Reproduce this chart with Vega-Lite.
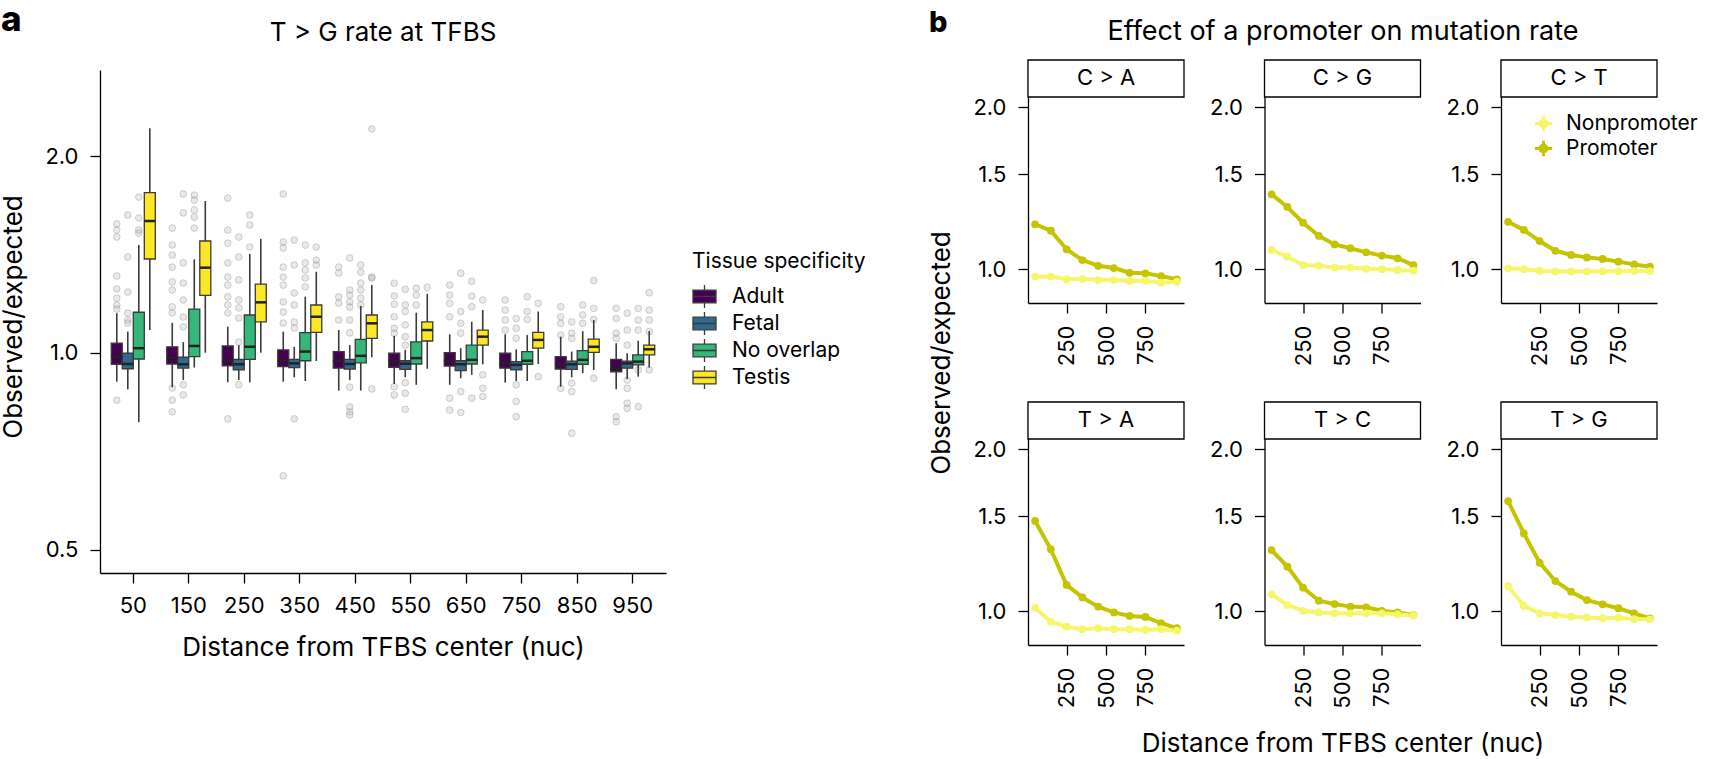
{
"$schema": "https://vega.github.io/schema/vega-lite/v6.json",
"padding": {"top": 3, "left": 0, "right": 0, "bottom": 0},
"config": {
 "font": "Inter",
 "view": {"stroke": null},
 "axis": {"domainColor": "black", "domainWidth": 1.3, "tickColor": "black", "tickWidth": 1.3, "tickSize": 10, "labelColor": "black", "labelFontSize": 22, "labelPadding": 12, "titleColor": "black", "titleFontSize": 26, "titleFontWeight": "normal", "grid": false, "labelFlush": false, "labelOverlap": false},
 "title": {"fontSize": 26, "fontWeight": "normal", "color": "black"},
 "legend": {"labelFontSize": 21, "titleFontSize": 21, "titleFontWeight": "normal", "labelColor": "black", "titleColor": "black"}
},
"datasets": {
 "boxes": [
  {"d": 50, "t": "Adult", "lo": 0.904, "q1": 0.961, "med": 0.986, "q3": 1.035, "hi": 1.150},
  {"d": 50, "t": "Fetal", "lo": 0.880, "q1": 0.946, "med": 0.962, "q3": 0.999, "hi": 1.078},
  {"d": 50, "t": "No overlap", "lo": 0.784, "q1": 0.979, "med": 1.017, "q3": 1.154, "hi": 1.462},
  {"d": 50, "t": "Testis", "lo": 1.084, "q1": 1.392, "med": 1.591, "q3": 1.758, "hi": 2.205},
  {"d": 150, "t": "Adult", "lo": 0.886, "q1": 0.962, "med": 0.982, "q3": 1.022, "hi": 1.112},
  {"d": 150, "t": "Fetal", "lo": 0.909, "q1": 0.948, "med": 0.961, "q3": 0.985, "hi": 1.039},
  {"d": 150, "t": "No overlap", "lo": 0.950, "q1": 0.987, "med": 1.025, "q3": 1.167, "hi": 1.390},
  {"d": 150, "t": "Testis", "lo": 1.001, "q1": 1.225, "med": 1.350, "q3": 1.483, "hi": 1.707},
  {"d": 250, "t": "Adult", "lo": 0.902, "q1": 0.956, "med": 0.973, "q3": 1.025, "hi": 1.097},
  {"d": 250, "t": "Fetal", "lo": 0.909, "q1": 0.942, "med": 0.961, "q3": 0.978, "hi": 1.028},
  {"d": 250, "t": "No overlap", "lo": 0.902, "q1": 0.978, "med": 1.022, "q3": 1.143, "hi": 1.417},
  {"d": 250, "t": "Testis", "lo": 1.001, "q1": 1.116, "med": 1.195, "q3": 1.274, "hi": 1.494},
  {"d": 350, "t": "Adult", "lo": 0.904, "q1": 0.953, "med": 0.973, "q3": 1.011, "hi": 1.078},
  {"d": 350, "t": "Fetal", "lo": 0.918, "q1": 0.950, "med": 0.964, "q3": 0.978, "hi": 1.022},
  {"d": 350, "t": "No overlap", "lo": 0.906, "q1": 0.973, "med": 1.005, "q3": 1.074, "hi": 1.219},
  {"d": 350, "t": "Testis", "lo": 0.972, "q1": 1.075, "med": 1.136, "q3": 1.184, "hi": 1.331},
  {"d": 450, "t": "Adult", "lo": 0.876, "q1": 0.948, "med": 0.973, "q3": 1.005, "hi": 1.084},
  {"d": 450, "t": "Fetal", "lo": 0.909, "q1": 0.945, "med": 0.962, "q3": 0.978, "hi": 1.028},
  {"d": 450, "t": "No overlap", "lo": 0.876, "q1": 0.966, "med": 0.990, "q3": 1.049, "hi": 1.180},
  {"d": 450, "t": "Testis", "lo": 0.985, "q1": 1.053, "med": 1.110, "q3": 1.143, "hi": 1.270},
  {"d": 550, "t": "Adult", "lo": 0.897, "q1": 0.951, "med": 0.970, "q3": 0.999, "hi": 1.062},
  {"d": 550, "t": "Fetal", "lo": 0.918, "q1": 0.944, "med": 0.963, "q3": 0.973, "hi": 1.011},
  {"d": 550, "t": "No overlap", "lo": 0.894, "q1": 0.962, "med": 0.982, "q3": 1.040, "hi": 1.152},
  {"d": 550, "t": "Testis", "lo": 0.946, "q1": 1.043, "med": 1.084, "q3": 1.116, "hi": 1.231},
  {"d": 650, "t": "Adult", "lo": 0.894, "q1": 0.955, "med": 0.972, "q3": 1.001, "hi": 1.068},
  {"d": 650, "t": "Fetal", "lo": 0.915, "q1": 0.940, "med": 0.961, "q3": 0.973, "hi": 1.017},
  {"d": 650, "t": "No overlap", "lo": 0.926, "q1": 0.962, "med": 0.976, "q3": 1.028, "hi": 1.116},
  {"d": 650, "t": "Testis", "lo": 0.961, "q1": 1.028, "med": 1.059, "q3": 1.084, "hi": 1.163},
  {"d": 750, "t": "Adult", "lo": 0.901, "q1": 0.948, "med": 0.964, "q3": 0.999, "hi": 1.068},
  {"d": 750, "t": "Fetal", "lo": 0.906, "q1": 0.942, "med": 0.959, "q3": 0.970, "hi": 1.013},
  {"d": 750, "t": "No overlap", "lo": 0.906, "q1": 0.961, "med": 0.973, "q3": 1.005, "hi": 1.065},
  {"d": 750, "t": "Testis", "lo": 0.962, "q1": 1.017, "med": 1.047, "q3": 1.075, "hi": 1.157},
  {"d": 850, "t": "Adult", "lo": 0.888, "q1": 0.945, "med": 0.959, "q3": 0.987, "hi": 1.059},
  {"d": 850, "t": "Fetal", "lo": 0.918, "q1": 0.944, "med": 0.961, "q3": 0.972, "hi": 1.005},
  {"d": 850, "t": "No overlap", "lo": 0.931, "q1": 0.961, "med": 0.976, "q3": 1.008, "hi": 1.080},
  {"d": 850, "t": "Testis", "lo": 0.942, "q1": 1.002, "med": 1.022, "q3": 1.050, "hi": 1.123},
  {"d": 950, "t": "Adult", "lo": 0.880, "q1": 0.936, "med": 0.947, "q3": 0.978, "hi": 1.035},
  {"d": 950, "t": "Fetal", "lo": 0.912, "q1": 0.948, "med": 0.964, "q3": 0.972, "hi": 0.999},
  {"d": 950, "t": "No overlap", "lo": 0.920, "q1": 0.959, "med": 0.970, "q3": 0.993, "hi": 1.044},
  {"d": 950, "t": "Testis", "lo": 0.950, "q1": 0.993, "med": 1.013, "q3": 1.028, "hi": 1.080}
 ],
 "outliers": [
  {"d":50,"t":"Adult","v":1.575},{"d":50,"t":"Adult","v":1.541},{"d":50,"t":"Adult","v":1.504},{"d":50,"t":"Adult","v":1.311},{"d":50,"t":"Adult","v":1.253},{"d":50,"t":"Adult","v":1.213},{"d":50,"t":"Adult","v":1.184},{"d":50,"t":"Adult","v":1.167},{"d":50,"t":"Adult","v":0.847},
  {"d":50,"t":"Fetal","v":1.625},{"d":50,"t":"Fetal","v":1.402},{"d":50,"t":"Fetal","v":1.239},{"d":50,"t":"Fetal","v":1.151},{"d":50,"t":"Fetal","v":1.123},{"d":50,"t":"Fetal","v":1.111},
  {"d":50,"t":"No overlap","v":1.731},{"d":50,"t":"No overlap","v":1.608},{"d":50,"t":"No overlap","v":1.541},{"d":50,"t":"No overlap","v":1.525},
  {"d":150,"t":"Adult","v":1.552},{"d":150,"t":"Adult","v":1.462},{"d":150,"t":"Adult","v":1.411},{"d":150,"t":"Adult","v":1.353},{"d":150,"t":"Adult","v":1.284},{"d":150,"t":"Adult","v":1.248},{"d":150,"t":"Adult","v":1.176},{"d":150,"t":"Adult","v":1.151},{"d":150,"t":"Adult","v":0.884},{"d":150,"t":"Adult","v":0.847},{"d":150,"t":"Adult","v":0.813},
  {"d":150,"t":"Fetal","v":1.750},{"d":150,"t":"Fetal","v":1.637},{"d":150,"t":"Fetal","v":1.373},{"d":150,"t":"Fetal","v":1.279},{"d":150,"t":"Fetal","v":1.205},{"d":150,"t":"Fetal","v":1.135},{"d":150,"t":"Fetal","v":1.096},{"d":150,"t":"Fetal","v":0.894},{"d":150,"t":"Fetal","v":0.863},
  {"d":150,"t":"No overlap","v":1.743},{"d":150,"t":"No overlap","v":1.713},{"d":150,"t":"No overlap","v":1.654},{"d":150,"t":"No overlap","v":1.613},{"d":150,"t":"No overlap","v":1.552},
  {"d":250,"t":"Adult","v":1.725},{"d":250,"t":"Adult","v":1.541},{"d":250,"t":"Adult","v":1.472},{"d":250,"t":"Adult","v":1.373},{"d":250,"t":"Adult","v":1.306},{"d":250,"t":"Adult","v":1.270},{"d":250,"t":"Adult","v":1.218},{"d":250,"t":"Adult","v":1.184},{"d":250,"t":"Adult","v":1.151},{"d":250,"t":"Adult","v":0.793},
  {"d":250,"t":"Fetal","v":1.504},{"d":250,"t":"Fetal","v":1.402},{"d":250,"t":"Fetal","v":1.293},{"d":250,"t":"Fetal","v":1.205},{"d":250,"t":"Fetal","v":1.172},{"d":250,"t":"Fetal","v":1.131},{"d":250,"t":"Fetal","v":1.039},{"d":250,"t":"Fetal","v":0.894},
  {"d":250,"t":"No overlap","v":1.625},{"d":250,"t":"No overlap","v":1.569},{"d":250,"t":"No overlap","v":1.452},
  {"d":350,"t":"Adult","v":1.750},{"d":350,"t":"Adult","v":1.478},{"d":350,"t":"Adult","v":1.447},{"d":350,"t":"Adult","v":1.353},{"d":350,"t":"Adult","v":1.306},{"d":350,"t":"Adult","v":1.270},{"d":350,"t":"Adult","v":1.197},{"d":350,"t":"Adult","v":1.155},{"d":350,"t":"Adult","v":1.111},{"d":350,"t":"Adult","v":0.649},
  {"d":350,"t":"Fetal","v":1.488},{"d":350,"t":"Fetal","v":1.363},{"d":350,"t":"Fetal","v":1.235},{"d":350,"t":"Fetal","v":1.184},{"d":350,"t":"Fetal","v":1.115},{"d":350,"t":"Fetal","v":1.092},{"d":350,"t":"Fetal","v":0.793},
  {"d":350,"t":"No overlap","v":1.462},{"d":350,"t":"No overlap","v":1.373},{"d":350,"t":"No overlap","v":1.339},{"d":350,"t":"No overlap","v":1.302},{"d":350,"t":"No overlap","v":1.262},
  {"d":350,"t":"Testis","v":1.452},{"d":350,"t":"Testis","v":1.387},{"d":350,"t":"Testis","v":1.363},
  {"d":450,"t":"Adult","v":1.353},{"d":450,"t":"Adult","v":1.325},{"d":450,"t":"Adult","v":1.218},{"d":450,"t":"Adult","v":1.192},{"d":450,"t":"Adult","v":1.123},
  {"d":450,"t":"Fetal","v":1.397},{"d":450,"t":"Fetal","v":1.248},{"d":450,"t":"Fetal","v":1.226},{"d":450,"t":"Fetal","v":1.197},{"d":450,"t":"Fetal","v":1.176},{"d":450,"t":"Fetal","v":1.123},{"d":450,"t":"Fetal","v":1.073},{"d":450,"t":"Fetal","v":0.887},{"d":450,"t":"Fetal","v":0.827},{"d":450,"t":"Fetal","v":0.813},{"d":450,"t":"Fetal","v":0.804},
  {"d":450,"t":"No overlap","v":1.363},{"d":450,"t":"No overlap","v":1.329},{"d":450,"t":"No overlap","v":1.279},{"d":450,"t":"No overlap","v":1.248},{"d":450,"t":"No overlap","v":1.213},{"d":450,"t":"No overlap","v":1.184},
  {"d":450,"t":"Testis","v":2.20},{"d":450,"t":"Testis","v":1.306},{"d":450,"t":"Testis","v":1.302},{"d":450,"t":"Testis","v":0.881},
  {"d":550,"t":"Adult","v":1.278},{"d":550,"t":"Adult","v":1.222},{"d":550,"t":"Adult","v":1.187},{"d":550,"t":"Adult","v":1.136},{"d":550,"t":"Adult","v":1.091},{"d":550,"t":"Adult","v":1.072},{"d":550,"t":"Adult","v":0.888},{"d":550,"t":"Adult","v":0.863},
  {"d":550,"t":"Fetal","v":1.251},{"d":550,"t":"Fetal","v":1.184},{"d":550,"t":"Fetal","v":1.157},{"d":550,"t":"Fetal","v":1.104},{"d":550,"t":"Fetal","v":1.059},{"d":550,"t":"Fetal","v":1.028},{"d":550,"t":"Fetal","v":0.901},{"d":550,"t":"Fetal","v":0.868},{"d":550,"t":"Fetal","v":0.820},
  {"d":550,"t":"No overlap","v":1.256},{"d":550,"t":"No overlap","v":1.226},{"d":550,"t":"No overlap","v":1.184},
  {"d":550,"t":"Testis","v":1.260},
  {"d":650,"t":"Adult","v":1.270},{"d":650,"t":"Adult","v":1.226},{"d":650,"t":"Adult","v":1.191},{"d":650,"t":"Adult","v":1.136},{"d":650,"t":"Adult","v":0.853},{"d":650,"t":"Adult","v":0.818},
  {"d":650,"t":"Fetal","v":1.324},{"d":650,"t":"Fetal","v":1.157},{"d":650,"t":"Fetal","v":1.110},{"d":650,"t":"Fetal","v":1.072},{"d":650,"t":"Fetal","v":0.873},{"d":650,"t":"Fetal","v":0.811},
  {"d":650,"t":"No overlap","v":1.287},{"d":650,"t":"No overlap","v":1.222},{"d":650,"t":"No overlap","v":1.177},{"d":650,"t":"No overlap","v":0.853},
  {"d":650,"t":"Testis","v":1.205},{"d":650,"t":"Testis","v":0.926},{"d":650,"t":"Testis","v":0.883},{"d":650,"t":"Testis","v":0.858},
  {"d":750,"t":"Adult","v":1.205},{"d":750,"t":"Adult","v":1.163},{"d":750,"t":"Adult","v":1.123},{"d":750,"t":"Adult","v":1.084},
  {"d":750,"t":"Fetal","v":1.129},{"d":750,"t":"Fetal","v":1.091},{"d":750,"t":"Fetal","v":1.053},{"d":750,"t":"Fetal","v":0.894},{"d":750,"t":"Fetal","v":0.843},{"d":750,"t":"Fetal","v":0.799},
  {"d":750,"t":"No overlap","v":1.219},{"d":750,"t":"No overlap","v":1.157},{"d":750,"t":"No overlap","v":1.125},
  {"d":750,"t":"Testis","v":1.191},{"d":750,"t":"Testis","v":0.920},
  {"d":850,"t":"Adult","v":1.177},{"d":850,"t":"Adult","v":1.136},{"d":850,"t":"Adult","v":1.110},{"d":850,"t":"Adult","v":1.065},{"d":850,"t":"Adult","v":0.883},
  {"d":850,"t":"Fetal","v":1.116},{"d":850,"t":"Fetal","v":1.072},{"d":850,"t":"Fetal","v":1.053},{"d":850,"t":"Fetal","v":0.899},{"d":850,"t":"Fetal","v":0.873},{"d":850,"t":"Fetal","v":0.754},
  {"d":850,"t":"No overlap","v":1.184},{"d":850,"t":"No overlap","v":1.143},{"d":850,"t":"No overlap","v":1.110},
  {"d":850,"t":"Testis","v":1.290},{"d":850,"t":"Testis","v":1.170},{"d":850,"t":"Testis","v":1.125},{"d":850,"t":"Testis","v":0.915},
  {"d":950,"t":"Adult","v":1.170},{"d":950,"t":"Adult","v":1.129},{"d":950,"t":"Adult","v":1.072},{"d":950,"t":"Adult","v":1.053},{"d":950,"t":"Adult","v":0.799},{"d":950,"t":"Adult","v":0.785},
  {"d":950,"t":"Fetal","v":1.150},{"d":950,"t":"Fetal","v":1.084},{"d":950,"t":"Fetal","v":1.028},{"d":950,"t":"Fetal","v":0.909},{"d":950,"t":"Fetal","v":0.883},{"d":950,"t":"Fetal","v":0.838},{"d":950,"t":"Fetal","v":0.823},
  {"d":950,"t":"No overlap","v":1.170},{"d":950,"t":"No overlap","v":1.123},{"d":950,"t":"No overlap","v":1.084},{"d":950,"t":"No overlap","v":0.942},{"d":950,"t":"No overlap","v":0.828},
  {"d":950,"t":"Testis","v":1.236},{"d":950,"t":"Testis","v":1.163},{"d":950,"t":"Testis","v":1.123},{"d":950,"t":"Testis","v":1.078},{"d":950,"t":"Testis","v":0.942}
 ],
 "lines": [
  {"mut":"C > A","type":"Promoter","d":50,"v":1.211},{"mut":"C > A","type":"Promoter","d":150,"v":1.178},{"mut":"C > A","type":"Promoter","d":250,"v":1.088},{"mut":"C > A","type":"Promoter","d":350,"v":1.039},{"mut":"C > A","type":"Promoter","d":450,"v":1.014},{"mut":"C > A","type":"Promoter","d":550,"v":1.004},{"mut":"C > A","type":"Promoter","d":650,"v":0.984},{"mut":"C > A","type":"Promoter","d":750,"v":0.982},{"mut":"C > A","type":"Promoter","d":850,"v":0.970},{"mut":"C > A","type":"Promoter","d":950,"v":0.957},
  {"mut":"C > A","type":"Nonpromoter","d":50,"v":0.968},{"mut":"C > A","type":"Nonpromoter","d":150,"v":0.968},{"mut":"C > A","type":"Nonpromoter","d":250,"v":0.957},{"mut":"C > A","type":"Nonpromoter","d":350,"v":0.959},{"mut":"C > A","type":"Nonpromoter","d":450,"v":0.954},{"mut":"C > A","type":"Nonpromoter","d":550,"v":0.954},{"mut":"C > A","type":"Nonpromoter","d":650,"v":0.950},{"mut":"C > A","type":"Nonpromoter","d":750,"v":0.951},{"mut":"C > A","type":"Nonpromoter","d":850,"v":0.943},{"mut":"C > A","type":"Nonpromoter","d":950,"v":0.947},
  {"mut":"C > G","type":"Promoter","d":50,"v":1.377},{"mut":"C > G","type":"Promoter","d":150,"v":1.304},{"mut":"C > G","type":"Promoter","d":250,"v":1.219},{"mut":"C > G","type":"Promoter","d":350,"v":1.152},{"mut":"C > G","type":"Promoter","d":450,"v":1.111},{"mut":"C > G","type":"Promoter","d":550,"v":1.093},{"mut":"C > G","type":"Promoter","d":650,"v":1.074},{"mut":"C > G","type":"Promoter","d":750,"v":1.059},{"mut":"C > G","type":"Promoter","d":850,"v":1.047},{"mut":"C > G","type":"Promoter","d":950,"v":1.017},
  {"mut":"C > G","type":"Nonpromoter","d":50,"v":1.085},{"mut":"C > G","type":"Nonpromoter","d":150,"v":1.054},{"mut":"C > G","type":"Nonpromoter","d":250,"v":1.017},{"mut":"C > G","type":"Nonpromoter","d":350,"v":1.014},{"mut":"C > G","type":"Nonpromoter","d":450,"v":1.006},{"mut":"C > G","type":"Nonpromoter","d":550,"v":1.006},{"mut":"C > G","type":"Nonpromoter","d":650,"v":1.001},{"mut":"C > G","type":"Nonpromoter","d":750,"v":0.999},{"mut":"C > G","type":"Nonpromoter","d":850,"v":0.996},{"mut":"C > G","type":"Nonpromoter","d":950,"v":0.993},
  {"mut":"C > T","type":"Promoter","d":50,"v":1.224},{"mut":"C > T","type":"Promoter","d":150,"v":1.182},{"mut":"C > T","type":"Promoter","d":250,"v":1.127},{"mut":"C > T","type":"Promoter","d":350,"v":1.081},{"mut":"C > T","type":"Promoter","d":450,"v":1.062},{"mut":"C > T","type":"Promoter","d":550,"v":1.051},{"mut":"C > T","type":"Promoter","d":650,"v":1.044},{"mut":"C > T","type":"Promoter","d":750,"v":1.032},{"mut":"C > T","type":"Promoter","d":850,"v":1.020},{"mut":"C > T","type":"Promoter","d":950,"v":1.010},
  {"mut":"C > T","type":"Nonpromoter","d":50,"v":1.003},{"mut":"C > T","type":"Nonpromoter","d":150,"v":0.999},{"mut":"C > T","type":"Nonpromoter","d":250,"v":0.993},{"mut":"C > T","type":"Nonpromoter","d":350,"v":0.989},{"mut":"C > T","type":"Nonpromoter","d":450,"v":0.989},{"mut":"C > T","type":"Nonpromoter","d":550,"v":0.989},{"mut":"C > T","type":"Nonpromoter","d":650,"v":0.990},{"mut":"C > T","type":"Nonpromoter","d":750,"v":0.990},{"mut":"C > T","type":"Nonpromoter","d":850,"v":0.991},{"mut":"C > T","type":"Nonpromoter","d":950,"v":0.991},
  {"mut":"T > A","type":"Promoter","d":50,"v":1.470},{"mut":"T > A","type":"Promoter","d":150,"v":1.302},{"mut":"T > A","type":"Promoter","d":250,"v":1.118},{"mut":"T > A","type":"Promoter","d":350,"v":1.060},{"mut":"T > A","type":"Promoter","d":450,"v":1.019},{"mut":"T > A","type":"Promoter","d":550,"v":0.994},{"mut":"T > A","type":"Promoter","d":650,"v":0.979},{"mut":"T > A","type":"Promoter","d":750,"v":0.975},{"mut":"T > A","type":"Promoter","d":850,"v":0.949},{"mut":"T > A","type":"Promoter","d":950,"v":0.929},
  {"mut":"T > A","type":"Nonpromoter","d":50,"v":1.014},{"mut":"T > A","type":"Nonpromoter","d":150,"v":0.955},{"mut":"T > A","type":"Nonpromoter","d":250,"v":0.935},{"mut":"T > A","type":"Nonpromoter","d":350,"v":0.925},{"mut":"T > A","type":"Nonpromoter","d":450,"v":0.929},{"mut":"T > A","type":"Nonpromoter","d":550,"v":0.925},{"mut":"T > A","type":"Nonpromoter","d":650,"v":0.925},{"mut":"T > A","type":"Nonpromoter","d":750,"v":0.922},{"mut":"T > A","type":"Nonpromoter","d":850,"v":0.925},{"mut":"T > A","type":"Nonpromoter","d":950,"v":0.919},
  {"mut":"T > C","type":"Promoter","d":50,"v":1.298},{"mut":"T > C","type":"Promoter","d":150,"v":1.209},{"mut":"T > C","type":"Promoter","d":250,"v":1.105},{"mut":"T > C","type":"Promoter","d":350,"v":1.045},{"mut":"T > C","type":"Promoter","d":450,"v":1.030},{"mut":"T > C","type":"Promoter","d":550,"v":1.019},{"mut":"T > C","type":"Promoter","d":650,"v":1.016},{"mut":"T > C","type":"Promoter","d":750,"v":1.001},{"mut":"T > C","type":"Promoter","d":850,"v":0.994},{"mut":"T > C","type":"Promoter","d":950,"v":0.983},
  {"mut":"T > C","type":"Nonpromoter","d":50,"v":1.074},{"mut":"T > C","type":"Nonpromoter","d":150,"v":1.026},{"mut":"T > C","type":"Nonpromoter","d":250,"v":1.001},{"mut":"T > C","type":"Nonpromoter","d":350,"v":0.994},{"mut":"T > C","type":"Nonpromoter","d":450,"v":0.990},{"mut":"T > C","type":"Nonpromoter","d":550,"v":0.990},{"mut":"T > C","type":"Nonpromoter","d":650,"v":0.990},{"mut":"T > C","type":"Nonpromoter","d":750,"v":0.990},{"mut":"T > C","type":"Nonpromoter","d":850,"v":0.986},{"mut":"T > C","type":"Nonpromoter","d":950,"v":0.980},
  {"mut":"T > G","type":"Promoter","d":50,"v":1.601},{"mut":"T > G","type":"Promoter","d":150,"v":1.394},{"mut":"T > G","type":"Promoter","d":250,"v":1.230},{"mut":"T > G","type":"Promoter","d":350,"v":1.137},{"mut":"T > G","type":"Promoter","d":450,"v":1.086},{"mut":"T > G","type":"Promoter","d":550,"v":1.048},{"mut":"T > G","type":"Promoter","d":650,"v":1.029},{"mut":"T > G","type":"Promoter","d":750,"v":1.012},{"mut":"T > G","type":"Promoter","d":850,"v":0.990},{"mut":"T > G","type":"Promoter","d":950,"v":0.969},
  {"mut":"T > G","type":"Nonpromoter","d":50,"v":1.113},{"mut":"T > G","type":"Nonpromoter","d":150,"v":1.022},{"mut":"T > G","type":"Nonpromoter","d":250,"v":0.990},{"mut":"T > G","type":"Nonpromoter","d":350,"v":0.983},{"mut":"T > G","type":"Nonpromoter","d":450,"v":0.976},{"mut":"T > G","type":"Nonpromoter","d":550,"v":0.973},{"mut":"T > G","type":"Nonpromoter","d":650,"v":0.969},{"mut":"T > G","type":"Nonpromoter","d":750,"v":0.972},{"mut":"T > G","type":"Nonpromoter","d":850,"v":0.966},{"mut":"T > G","type":"Nonpromoter","d":950,"v":0.965}
 ]
},
"resolve": {"scale": {"color": "independent", "x": "independent", "y": "independent"}, "legend": {"color": "independent"}},
"columns": 2,
"align": "none",
"spacing": 62,
"concat": [
 {
  "title": {"text": "a", "anchor": "start", "frame": "bounds", "fontSize": 35, "fontWeight": 800, "offset": -18},
  "vconcat": [
   {
    "width": 566, "height": 513,
    "title": {"text": "T > G rate at TFBS", "anchor": "middle", "frame": "group", "offset": 14},
    "encoding": {
     "x": {"field": "d", "type": "ordinal", "scale": {"paddingInner": 0, "paddingOuter": 0.1}, "axis": {"labelAngle": 0, "title": "Distance from TFBS center (nuc)", "titlePadding": 18}},
     "xOffset": {"field": "t", "type": "nominal", "scale": {"domain": ["Adult", "Fetal", "No overlap", "Testis"], "paddingInner": 0, "paddingOuter": 0.52}},
     "y": {"type": "quantitative", "scale": {"type": "log", "domain": [0.461, 2.804], "nice": false}, "axis": {"values": [0.5, 1, 2], "format": ".1f", "title": "Observed/expected", "titlePadding": 18, "domainDash": [503, 40]}}
    },
    "layer": [
     {"data": {"name": "outliers"}, "mark": {"type": "point", "filled": true, "size": 45, "fill": "#9a9a9a", "fillOpacity": 0.22, "stroke": "#888888", "strokeOpacity": 0.35, "strokeWidth": 1},
      "encoding": {"y": {"field": "v", "type": "quantitative"}}},
     {"data": {"name": "boxes"}, "mark": {"type": "rule", "color": "#3a3a3a", "strokeWidth": 1.6},
      "encoding": {"y": {"field": "lo", "type": "quantitative"}, "y2": {"field": "hi"}}},
     {"data": {"name": "boxes"}, "mark": {"type": "bar", "stroke": "#3a3a3a", "strokeWidth": 1.3},
      "encoding": {"y": {"field": "q1", "type": "quantitative"}, "y2": {"field": "q3"},
       "color": {"field": "t", "type": "nominal", "scale": {"domain": ["Adult", "Fetal", "No overlap", "Testis"], "range": ["#440154", "#31688E", "#35B779", "#FDE725"]},
        "legend": {"title": "Tissue specificity", "orient": "none", "legendX": 592, "legendY": 191, "symbolType": "M-1,-0.55L1,-0.55L1,0.55L-1,0.55Z M0,-0.55L0,-1 M0,0.55L0,1 M-1,0L1,0", "symbolSize": 529, "symbolStrokeColor": "#3a3a3a", "symbolStrokeWidth": 1.3, "symbolOpacity": 1, "rowPadding": -2.7, "labelOffset": 15, "titlePadding": 12}}}},
     {"data": {"name": "boxes"}, "mark": {"type": "tick", "color": "#222222", "thickness": 2.5, "size": 11, "opacity": 1},
      "encoding": {"y": {"field": "med", "type": "quantitative"}}}
    ]
   }
  ]
 },
 {
  "title": {"text": "b", "anchor": "start", "frame": "bounds", "fontSize": 29, "fontWeight": 800, "offset": -20},
  "vconcat": [
   {
    "title": {"text": "Effect of a promoter on mutation rate", "anchor": "middle", "frame": "group", "dx": 315, "offset": 13.5, "fontSize": 27},
    "bounds": "flush", "columns": 3, "spacing": {"row": 99, "column": 80.5},
    "resolve": {"scale": {"color": "independent", "x": "independent", "y": "independent"}, "legend": {"color": "independent"}},
    "data": {"name": "lines"},
    "concat": [
     {"width": 156, "height": 243, "transform": [{"filter": {"field": "mut", "equal": "C > A"}}],
      "encoding": {
       "x": {"field": "d", "type": "quantitative", "scale": {"domain": [5, 995], "nice": false, "zero": false}, "axis": {"values": [250, 500, 750], "labelAngle": -90, "title": null}},
       "y": {"field": "v", "type": "quantitative", "scale": {"type": "log", "domain": [0.8646, 2.446], "nice": false}, "axis": {"values": [1, 1.5, 2], "format": ".1f", "title": "Observed/expected", "titleY": 292.5, "titlePadding": 18}}},
      "layer": [
       {"transform": [{"filter": "datum.d == 50 && datum.type == 'Promoter'"}], "mark": {"type": "rect", "fill": "white", "stroke": "black", "strokeWidth": 1.3}, "encoding": {"x": {"datum": 5, "type": "quantitative"}, "x2": {"datum": 995}, "y": {"datum": 2.088, "type": "quantitative"}, "y2": {"datum": 2.446}}},
       {"transform": [{"filter": "datum.d == 50 && datum.type == 'Promoter'"}], "mark": {"type": "text", "fontSize": 22, "baseline": "middle", "align": "center"}, "encoding": {"x": {"datum": 500, "type": "quantitative"}, "y": {"datum": 2.26, "type": "quantitative"}, "text": {"field": "mut"}}},
       {"mark": {"type": "line", "strokeWidth": 4}, "encoding": {"color": {"field": "type", "type": "nominal", "scale": {"domain": ["Nonpromoter", "Promoter"], "range": ["#F6F66C", "#C4C400"]}, "legend": null}}},
       {"mark": {"type": "point", "filled": true, "size": 60, "opacity": 1}, "encoding": {"color": {"field": "type", "type": "nominal", "scale": {"domain": ["Nonpromoter", "Promoter"], "range": ["#F6F66C", "#C4C400"]}, "legend": null}}}
      ]},
     {"width": 156, "height": 243, "transform": [{"filter": {"field": "mut", "equal": "C > G"}}],
      "encoding": {
       "x": {"field": "d", "type": "quantitative", "scale": {"domain": [5, 995], "nice": false, "zero": false}, "axis": {"values": [250, 500, 750], "labelAngle": -90, "title": null}},
       "y": {"field": "v", "type": "quantitative", "scale": {"type": "log", "domain": [0.8646, 2.446], "nice": false}, "axis": {"values": [1, 1.5, 2], "format": ".1f", "title": null}}},
      "layer": [
       {"transform": [{"filter": "datum.d == 50 && datum.type == 'Promoter'"}], "mark": {"type": "rect", "fill": "white", "stroke": "black", "strokeWidth": 1.3}, "encoding": {"x": {"datum": 5, "type": "quantitative"}, "x2": {"datum": 995}, "y": {"datum": 2.088, "type": "quantitative"}, "y2": {"datum": 2.446}}},
       {"transform": [{"filter": "datum.d == 50 && datum.type == 'Promoter'"}], "mark": {"type": "text", "fontSize": 22, "baseline": "middle", "align": "center"}, "encoding": {"x": {"datum": 500, "type": "quantitative"}, "y": {"datum": 2.26, "type": "quantitative"}, "text": {"field": "mut"}}},
       {"mark": {"type": "line", "strokeWidth": 4}, "encoding": {"color": {"field": "type", "type": "nominal", "scale": {"domain": ["Nonpromoter", "Promoter"], "range": ["#F6F66C", "#C4C400"]}, "legend": null}}},
       {"mark": {"type": "point", "filled": true, "size": 60, "opacity": 1}, "encoding": {"color": {"field": "type", "type": "nominal", "scale": {"domain": ["Nonpromoter", "Promoter"], "range": ["#F6F66C", "#C4C400"]}, "legend": null}}}
      ]},
     {"width": 156, "height": 243, "transform": [{"filter": {"field": "mut", "equal": "C > T"}}],
      "encoding": {
       "x": {"field": "d", "type": "quantitative", "scale": {"domain": [5, 995], "nice": false, "zero": false}, "axis": {"values": [250, 500, 750], "labelAngle": -90, "title": null}},
       "y": {"field": "v", "type": "quantitative", "scale": {"type": "log", "domain": [0.8646, 2.446], "nice": false}, "axis": {"values": [1, 1.5, 2], "format": ".1f", "title": null}}},
      "layer": [
       {"transform": [{"filter": "datum.d == 50 && datum.type == 'Promoter'"}], "mark": {"type": "rect", "fill": "white", "stroke": "black", "strokeWidth": 1.3}, "encoding": {"x": {"datum": 5, "type": "quantitative"}, "x2": {"datum": 995}, "y": {"datum": 2.088, "type": "quantitative"}, "y2": {"datum": 2.446}}},
       {"transform": [{"filter": "datum.d == 50 && datum.type == 'Promoter'"}], "mark": {"type": "text", "fontSize": 22, "baseline": "middle", "align": "center"}, "encoding": {"x": {"datum": 500, "type": "quantitative"}, "y": {"datum": 2.26, "type": "quantitative"}, "text": {"field": "mut"}}},
       {"mark": {"type": "line", "strokeWidth": 4}, "encoding": {"color": {"field": "type", "type": "nominal", "scale": {"domain": ["Nonpromoter", "Promoter"], "range": ["#F6F66C", "#C4C400"]}, "legend": {"title": null, "orient": "none", "legendX": 32, "legendY": 53, "labelFontSize": 21, "symbolType": "M-1,0L1,0M0,-0.9L0,0.9M-0.4,0A0.4,0.4 0 1,0 0.4,0A0.4,0.4 0 1,0 -0.4,0", "symbolSize": 300, "symbolStrokeWidth": 3, "labelOffset": 12, "rowPadding": -8}}}},
       {"mark": {"type": "point", "filled": true, "size": 60, "opacity": 1}, "encoding": {"color": {"field": "type", "type": "nominal", "scale": {"domain": ["Nonpromoter", "Promoter"], "range": ["#F6F66C", "#C4C400"]}, "legend": {"title": null, "orient": "none", "legendX": 32, "legendY": 53, "labelFontSize": 21, "symbolType": "M-1,0L1,0M0,-0.9L0,0.9M-0.4,0A0.4,0.4 0 1,0 0.4,0A0.4,0.4 0 1,0 -0.4,0", "symbolSize": 300, "symbolStrokeWidth": 3, "labelOffset": 12, "rowPadding": -8}}}}
      ]},
     {"width": 156, "height": 243, "transform": [{"filter": {"field": "mut", "equal": "T > A"}}],
      "encoding": {
       "x": {"field": "d", "type": "quantitative", "scale": {"domain": [5, 995], "nice": false, "zero": false}, "axis": {"values": [250, 500, 750], "labelAngle": -90, "title": null}},
       "y": {"field": "v", "type": "quantitative", "scale": {"type": "log", "domain": [0.8646, 2.446], "nice": false}, "axis": {"values": [1, 1.5, 2], "format": ".1f", "title": null}}},
      "layer": [
       {"transform": [{"filter": "datum.d == 50 && datum.type == 'Promoter'"}], "mark": {"type": "rect", "fill": "white", "stroke": "black", "strokeWidth": 1.3}, "encoding": {"x": {"datum": 5, "type": "quantitative"}, "x2": {"datum": 995}, "y": {"datum": 2.088, "type": "quantitative"}, "y2": {"datum": 2.446}}},
       {"transform": [{"filter": "datum.d == 50 && datum.type == 'Promoter'"}], "mark": {"type": "text", "fontSize": 22, "baseline": "middle", "align": "center"}, "encoding": {"x": {"datum": 500, "type": "quantitative"}, "y": {"datum": 2.26, "type": "quantitative"}, "text": {"field": "mut"}}},
       {"mark": {"type": "line", "strokeWidth": 4}, "encoding": {"color": {"field": "type", "type": "nominal", "scale": {"domain": ["Nonpromoter", "Promoter"], "range": ["#F6F66C", "#C4C400"]}, "legend": null}}},
       {"mark": {"type": "point", "filled": true, "size": 60, "opacity": 1}, "encoding": {"color": {"field": "type", "type": "nominal", "scale": {"domain": ["Nonpromoter", "Promoter"], "range": ["#F6F66C", "#C4C400"]}, "legend": null}}}
      ]},
     {"width": 156, "height": 243, "transform": [{"filter": {"field": "mut", "equal": "T > C"}}],
      "encoding": {
       "x": {"field": "d", "type": "quantitative", "scale": {"domain": [5, 995], "nice": false, "zero": false}, "axis": {"values": [250, 500, 750], "labelAngle": -90, "title": "Distance from TFBS center (nuc)", "titlePadding": 22}},
       "y": {"field": "v", "type": "quantitative", "scale": {"type": "log", "domain": [0.8646, 2.446], "nice": false}, "axis": {"values": [1, 1.5, 2], "format": ".1f", "title": null}}},
      "layer": [
       {"transform": [{"filter": "datum.d == 50 && datum.type == 'Promoter'"}], "mark": {"type": "rect", "fill": "white", "stroke": "black", "strokeWidth": 1.3}, "encoding": {"x": {"datum": 5, "type": "quantitative"}, "x2": {"datum": 995}, "y": {"datum": 2.088, "type": "quantitative"}, "y2": {"datum": 2.446}}},
       {"transform": [{"filter": "datum.d == 50 && datum.type == 'Promoter'"}], "mark": {"type": "text", "fontSize": 22, "baseline": "middle", "align": "center"}, "encoding": {"x": {"datum": 500, "type": "quantitative"}, "y": {"datum": 2.26, "type": "quantitative"}, "text": {"field": "mut"}}},
       {"mark": {"type": "line", "strokeWidth": 4}, "encoding": {"color": {"field": "type", "type": "nominal", "scale": {"domain": ["Nonpromoter", "Promoter"], "range": ["#F6F66C", "#C4C400"]}, "legend": null}}},
       {"mark": {"type": "point", "filled": true, "size": 60, "opacity": 1}, "encoding": {"color": {"field": "type", "type": "nominal", "scale": {"domain": ["Nonpromoter", "Promoter"], "range": ["#F6F66C", "#C4C400"]}, "legend": null}}}
      ]},
     {"width": 156, "height": 243, "transform": [{"filter": {"field": "mut", "equal": "T > G"}}],
      "encoding": {
       "x": {"field": "d", "type": "quantitative", "scale": {"domain": [5, 995], "nice": false, "zero": false}, "axis": {"values": [250, 500, 750], "labelAngle": -90, "title": null}},
       "y": {"field": "v", "type": "quantitative", "scale": {"type": "log", "domain": [0.8646, 2.446], "nice": false}, "axis": {"values": [1, 1.5, 2], "format": ".1f", "title": null}}},
      "layer": [
       {"transform": [{"filter": "datum.d == 50 && datum.type == 'Promoter'"}], "mark": {"type": "rect", "fill": "white", "stroke": "black", "strokeWidth": 1.3}, "encoding": {"x": {"datum": 5, "type": "quantitative"}, "x2": {"datum": 995}, "y": {"datum": 2.088, "type": "quantitative"}, "y2": {"datum": 2.446}}},
       {"transform": [{"filter": "datum.d == 50 && datum.type == 'Promoter'"}], "mark": {"type": "text", "fontSize": 22, "baseline": "middle", "align": "center"}, "encoding": {"x": {"datum": 500, "type": "quantitative"}, "y": {"datum": 2.26, "type": "quantitative"}, "text": {"field": "mut"}}},
       {"mark": {"type": "line", "strokeWidth": 4}, "encoding": {"color": {"field": "type", "type": "nominal", "scale": {"domain": ["Nonpromoter", "Promoter"], "range": ["#F6F66C", "#C4C400"]}, "legend": null}}},
       {"mark": {"type": "point", "filled": true, "size": 60, "opacity": 1}, "encoding": {"color": {"field": "type", "type": "nominal", "scale": {"domain": ["Nonpromoter", "Promoter"], "range": ["#F6F66C", "#C4C400"]}, "legend": null}}}
      ]}
    ]
   }
  ]
 }
]
}
